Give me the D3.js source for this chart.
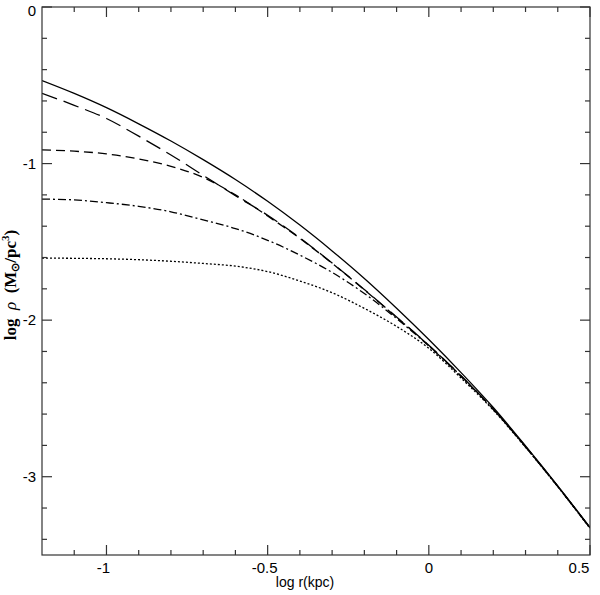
<!DOCTYPE html>
<html>
<head>
<meta charset="utf-8">
<script src="https://cdn.jsdelivr.net/npm/d3@7"></script>
<style>
  html, body { margin: 0; padding: 0; background: #fff; overflow: hidden; }
  svg { display: block; }
  text { fill: #000; }
</style>
</head>
<body>
<div id="chart"></div>
<script>
// log r (kpc) sample points
const logR = [-1.2, -1.1, -1.0, -0.9, -0.8, -0.7, -0.6, -0.5, -0.4, -0.3, -0.2, -0.1, 0.0, 0.1, 0.2, 0.3, 0.4, 0.5];

// log rho for each profile
const solid      = [-0.470, -0.552, -0.643, -0.746, -0.856, -0.975, -1.102, -1.241, -1.393, -1.558, -1.734, -1.924, -2.124, -2.335, -2.558, -2.803, -3.058, -3.324];
const longDash   = [-0.551, -0.628, -0.712, -0.825, -0.945, -1.075, -1.205, -1.330, -1.475, -1.635, -1.805, -1.980, -2.160, -2.355, -2.568, -2.808, -3.062, -3.327];
const shortDash  = [-0.913, -0.921, -0.938, -0.970, -1.018, -1.088, -1.200, -1.335, -1.478, -1.637, -1.807, -1.982, -2.162, -2.357, -2.569, -2.808, -3.062, -3.327];
const dashDot    = [-1.227, -1.232, -1.250, -1.273, -1.308, -1.360, -1.415, -1.490, -1.585, -1.695, -1.830, -1.990, -2.165, -2.360, -2.570, -2.810, -3.062, -3.327];
const dotted     = [-1.604, -1.605, -1.608, -1.614, -1.624, -1.638, -1.655, -1.690, -1.750, -1.825, -1.925, -2.040, -2.180, -2.370, -2.575, -2.812, -3.064, -3.330];

// tick positions and labels
const xMajor = [-1, -0.5, 0, 0.5];
const xMajorLabels = ['-1', '-0.5', '0', '0.5'];
const xMinor = [-1.1, -0.9, -0.8, -0.7, -0.6, -0.4, -0.3, -0.2, -0.1, 0.1, 0.2, 0.3, 0.4];
const yMajor = [0, -1, -2, -3];
const yMajorLabels = ['0', '-1', '-2', '-3'];
const yMinor = [-0.2, -0.4, -0.6, -0.8, -1.2, -1.4, -1.6, -1.8, -2.2, -2.4, -2.6, -2.8, -3.2, -3.4];

const width = 600;
const height = 595;
const margin = { top: 7, right: 10, bottom: 40, left: 42 };
const innerWidth = width - margin.left - margin.right;
const innerHeight = height - margin.top - margin.bottom;

const svg = d3.select('#chart')
    .append('svg')
    .attr('width', width)
    .attr('height', height);

const chart = svg.append('g')
    .attr('transform', `translate(${margin.left}, ${margin.top})`);

const xScale = d3.scaleLinear().domain([-1.2, 0.5]).range([0, innerWidth]);
const yScale = d3.scaleLinear().domain([-3.5, 0]).range([innerHeight, 0]);

// curves
const series = [
    { values: solid, dash: null },
    { values: longDash, dash: '16,7' },
    { values: shortDash, dash: '9,5' },
    { values: dashDot, dash: '8,3,2,3' },
    { values: dotted, dash: '2,2' }
];

const line = d3.line()
    .x(d => xScale(d[0]))
    .y(d => yScale(d[1]))
    .curve(d3.curveMonotoneX);

chart.append('defs').append('clipPath').attr('id', 'clip')
    .append('rect').attr('width', innerWidth).attr('height', innerHeight);

chart.append('g').attr('clip-path', 'url(#clip)')
    .selectAll('path')
    .data(series)
    .enter()
    .append('path')
    .attr('d', s => line(logR.map((r, i) => [r, s.values[i]])))
    .attr('fill', 'none')
    .attr('stroke', '#000')
    .attr('stroke-width', 1.3)
    .attr('stroke-dasharray', s => s.dash);

// frame
chart.append('rect')
    .attr('width', innerWidth)
    .attr('height', innerHeight)
    .attr('fill', 'none')
    .attr('stroke', '#333')
    .attr('stroke-width', 1.2);

// inward ticks on all four sides
const tickColor = '#333';
function xTicks(vals, len) {
    chart.append('g').selectAll('line').data(vals).enter().append('line')
        .attr('x1', d => xScale(d)).attr('x2', d => xScale(d))
        .attr('y1', innerHeight).attr('y2', innerHeight - len)
        .attr('stroke', tickColor).attr('stroke-width', 1.2);
    chart.append('g').selectAll('line').data(vals).enter().append('line')
        .attr('x1', d => xScale(d)).attr('x2', d => xScale(d))
        .attr('y1', 0).attr('y2', len)
        .attr('stroke', tickColor).attr('stroke-width', 1.2);
}
function yTicks(vals, len) {
    chart.append('g').selectAll('line').data(vals).enter().append('line')
        .attr('y1', d => yScale(d)).attr('y2', d => yScale(d))
        .attr('x1', 0).attr('x2', len)
        .attr('stroke', tickColor).attr('stroke-width', 1.2);
    chart.append('g').selectAll('line').data(vals).enter().append('line')
        .attr('y1', d => yScale(d)).attr('y2', d => yScale(d))
        .attr('x1', innerWidth).attr('x2', innerWidth - len)
        .attr('stroke', tickColor).attr('stroke-width', 1.2);
}
xTicks(xMajor, 10);
xTicks(xMinor, 5);
yTicks(yMajor, 10);
yTicks(yMinor, 5);

// tick labels
chart.append('g').selectAll('text').data(xMajor).enter().append('text')
    .attr('x', d => Math.min(xScale(d) - (d < 0 ? 3 : 0), innerWidth - 11))
    .attr('y', innerHeight + 18)
    .style('font-family', 'Liberation Sans, Arial, sans-serif')
    .style('font-size', '15px')
    .style('text-anchor', 'middle')
    .text((d, i) => xMajorLabels[i]);

chart.append('g').selectAll('text').data(yMajor).enter().append('text')
    .attr('x', -6)
    .attr('y', d => Math.max(yScale(d), 4) + 5)
    .style('font-family', 'Liberation Sans, Arial, sans-serif')
    .style('font-size', '15px')
    .style('text-anchor', 'end')
    .text((d, i) => yMajorLabels[i]);

// axis titles
svg.append('text')
    .attr('x', 305)
    .attr('y', 587)
    .style('font-family', 'Liberation Sans, Arial, sans-serif')
    .style('font-size', '14px')
    .style('text-anchor', 'middle')
    .text('log r(kpc)');

const yLabel = svg.append('text')
    .attr('transform', 'translate(16, 285) rotate(-90)')
    .style('font-family', 'Liberation Serif, Times New Roman, serif')
    .style('font-size', '17px')
    .style('font-weight', 'bold')
    .style('text-anchor', 'middle');
yLabel.append('tspan').text('log\u2002');
yLabel.append('tspan').style('font-style', 'italic').style('font-weight', 'normal').text('\u03C1');
yLabel.append('tspan').text('\u2002(M');
yLabel.append('tspan').attr('dy', 3).style('font-size', '11px').text('\u2299');
yLabel.append('tspan').attr('dy', -3).text('/pc');
yLabel.append('tspan').attr('dy', -7).style('font-size', '11px').text('3');
yLabel.append('tspan').attr('dy', 7).text(')');
</script>
</body>
</html>
